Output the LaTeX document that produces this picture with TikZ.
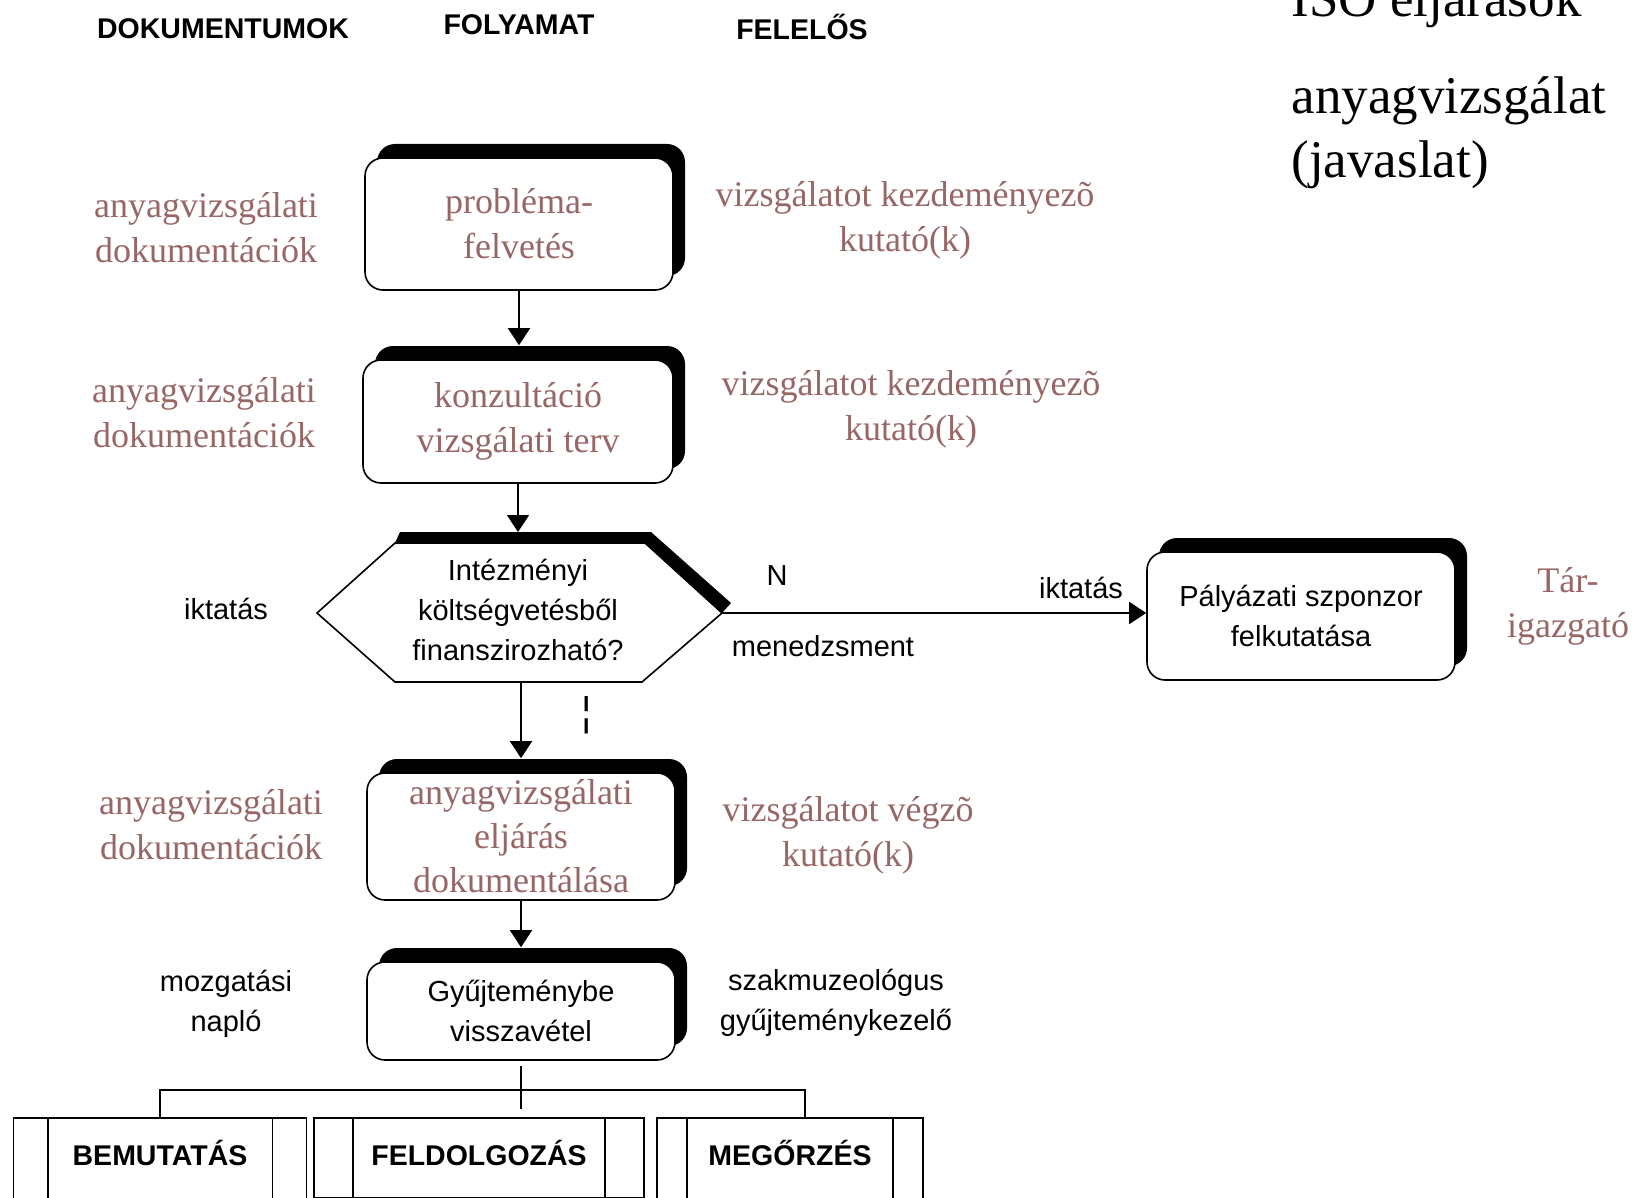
\documentclass[tikz,border=0pt]{standalone}
\usepackage{fontspec}
\setmainfont{Liberation Serif}
\setsansfont{Liberation Sans}
\usetikzlibrary{arrows.meta,shadows}
\definecolor{docpink}{RGB}{153,102,102}
\tikzset{
  procbox/.style={draw, line width=1.6pt, fill=white, rounded corners=18pt,
    minimum width=308pt, inner sep=0pt, align=center,
    drop shadow={shadow xshift=12pt, shadow yshift=14pt, fill=black, opacity=1}},
  subproc/.style={draw, line width=1.6pt, anchor=north, inner sep=0pt, text height=48pt,
    font=\sffamily\bfseries\fontsize{28.5}{34}\selectfont},
  header/.style={font=\sffamily\bfseries\fontsize{28.5}{34}\selectfont},
  pinktext/.style={text=docpink, align=center, font=\fontsize{36}{45}\selectfont},
  sanstext/.style={align=center, font=\sffamily\fontsize{29}{40}\selectfont},
  flow/.style={line width=1.8pt, -{Triangle[width=22pt,length=17pt]}},
  joint/.style={line width=1.8pt}
}
\begin{document}
\begin{tikzpicture}[x=1pt,y=-1pt]
            \useasboundingbox (0,0) rectangle (1640,1198);
            \clip (0,0) rectangle (1640,1198);

            % Column headers
            \draw (223.000000,29.000000) node (hdoc) [header] {DOKUMENTUMOK};%
            \draw (519.000000,25.000000) node (hproc) [header] {FOLYAMAT};%
            \draw (802.000000,27.000000) node (hresp) [header] {FELELŐS};%

            % Text in the top right corner
            \draw (1288.000000,17.000000) node (iso) [anchor=base west, font=\fontsize{53}{64}\selectfont] {ISO eljárások};%
            \draw (1288.000000,132.500000) node (javaslat) [anchor=west, align=left, font=\fontsize{53}{64}\selectfont] {anyagvizsgálat\\(javaslat)};%

            % Drawing box probléma-felvetés
            \draw (519.000000,224.000000) node (prob) [procbox, pinktext, minimum height=132pt] {probléma-\\felvetés};%
            \draw (206.000000,228.000000) node (ldoc1) [pinktext] {anyagvizsgálati\\dokumentációk};%
            \draw (905.000000,220.000000) node (rresp1) [pinktext] {vizsgálatot kezdeményezõ\\kutató(k)};%

            % Drawing box konzultáció
            \draw (518.000000,421.500000) node (konz) [procbox, pinktext, minimum width=310pt, minimum height=123pt] {konzultáció\\vizsgálati terv};%
            \draw (204.000000,413.000000) node (ldoc2) [pinktext] {anyagvizsgálati\\dokumentációk};%
            \draw (911.000000,409.000000) node (rresp2) [pinktext] {vizsgálatot kezdeményezõ\\kutató(k)};%

            % Drawing decision hexagon
            \coordinate (hexW) at (317.000000,613.000000);
            \coordinate (hexE) at (722.000000,613.000000);
            \coordinate (hexS) at (519.000000,682.000000);
            \coordinate (hexNs) at (519.000000,532.000000);
            \fill [black] (395.000000,543.000000) -- (400.000000,532.000000) -- (651.000000,532.000000) -- (731.000000,603.000000) -- (hexE) -- (645.000000,543.000000) -- cycle;%
            \draw [line width=1.6pt, fill=white] (hexW) -- (395.000000,543.000000) -- (645.000000,543.000000) -- (hexE) -- (642.000000,682.000000) -- (395.000000,682.000000) -- cycle;%
            \draw (518.000000,610.000000) node (dec) [sanstext] {Intézményi\\költségvetésből\\finanszirozható?};%
            \draw (226.000000,609.000000) node (liktat) [sanstext] {iktatás};%
            \draw (777.000000,576.000000) node (no) [sanstext] {N};%
            \draw (823.000000,646.000000) node (menedzs) [sanstext] {menedzsment};%
            \draw (1081.000000,588.000000) node (riktat) [sanstext] {iktatás};%
            \draw (587.000000,715.000000) node (yes) [font=\sffamily\fontsize{40}{40}\selectfont] {¦};%

            % Drawing box Pályázati szponzor
            \draw (1301.000000,616.000000) node (palyaz) [procbox, sanstext, minimum height=128pt] {Pályázati szponzor\\felkutatása};%
            \draw (1568.000000,606.000000) node (targ) [pinktext] {Tár-\\igazgató};%

            % Drawing box eljárás dokumentálása
            \draw (521.000000,836.500000) node (dokum) [procbox, pinktext, font=\fontsize{36}{44}\selectfont, minimum height=127pt] {anyagvizsgálati\\eljárás\\dokumentálása};%
            \draw (211.000000,825.000000) node (ldoc3) [pinktext] {anyagvizsgálati\\dokumentációk};%
            \draw (848.000000,835.000000) node (rresp3) [pinktext] {vizsgálatot végzõ\\kutató(k)};%

            % Drawing box Gyűjteménybe visszavétel
            \draw (521.000000,1011.000000) node (gyujt) [procbox, sanstext, minimum height=98pt] {Gyűjteménybe\\visszavétel};%
            \draw (226.000000,1004.000000) node (lmozg) [sanstext] {mozgatási\\napló};%
            \draw (836.000000,1003.000000) node (rszak) [sanstext] {szakmuzeológus\\gyűjteménykezelő};%

            % Drawing the three subprocesses
            \draw (160.000000,1117.000000) node (bemut) [subproc, minimum width=293pt, text depth=50pt] {BEMUTATÁS};%
            \draw (479.000000,1117.000000) node (feldolg) [subproc, minimum width=330pt, text depth=32pt] {FELDOLGOZÁS};%
            \draw (790.000000,1117.000000) node (megorz) [subproc, minimum width=266pt, text depth=50pt] {MEGŐRZÉS};%
            \foreach \b/\d in {bemut/35,feldolg/40,megorz/31} {
              \draw [line width=1.6pt] ([xshift=\d pt]\b.north west) -- ([xshift=\d pt]\b.south west);
              \draw [line width=1.6pt] ([xshift=-\d pt]\b.north east) -- ([xshift=-\d pt]\b.south east);
            }

            % Drawing the connectors
            \draw [flow] (prob.south) -- ([yshift=14pt]prob.south |- konz.north);%
            \draw [flow] (konz.south) -- (konz.south |- hexNs);%
            \draw [flow] (hexS -| dokum.north) -- ([yshift=14pt]dokum.north);%
            \draw [flow] (dokum.south) -- ([yshift=14pt]gyujt.north);%
            \draw [flow] (hexE) -- (hexE -| palyaz.west);%
            \coordinate (fork) at (520.000000,1090.000000);
            \draw [joint] ([yshift=-5pt]gyujt.south) -- ++(0,43);%
            \draw [joint] (bemut.north) |- (fork) -| ([xshift=15pt]megorz.north);%
\end{tikzpicture}
\end{document}
